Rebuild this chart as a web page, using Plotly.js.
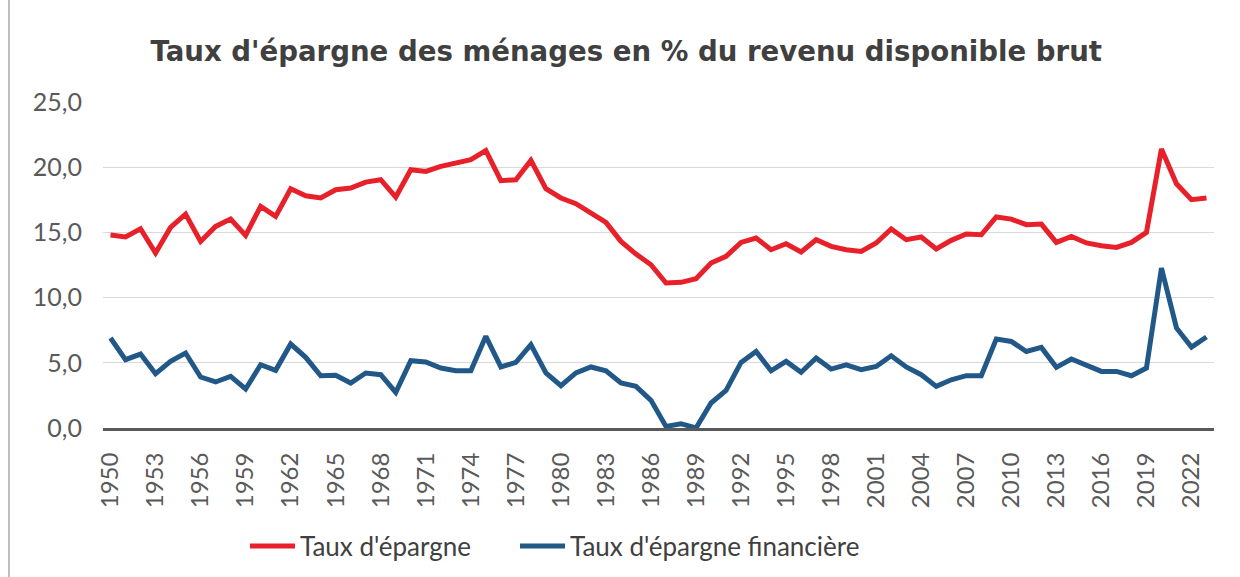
<!DOCTYPE html>
<html><head><meta charset="utf-8">
<script src="https://cdn.plot.ly/plotly-3.0.1.min.js"></script>
<style>html,body{margin:0;padding:0;background:#fff}#chart{width:1240px;height:577px}</style>
</head><body><div id="chart"></div>
<script>
const years = [];
for (let y = 1950; y <= 2023; y++) years.push(String(y));
const tauxEpargne = [14.8,14.65,15.28,13.42,15.38,16.4,14.31,15.46,16.02,14.77,
  17.0,16.23,18.35,17.81,17.64,18.27,18.4,18.86,19.04,17.71,
  19.81,19.68,20.06,20.32,20.58,21.27,18.97,19.04,20.52,18.35,
  17.64,17.2,16.49,15.77,14.31,13.34,12.52,11.12,11.17,11.45,
  12.65,13.16,14.23,14.57,13.67,14.13,13.5,14.44,13.93,13.67,
  13.54,14.19,15.26,14.44,14.65,13.73,14.39,14.88,14.82,16.18,
  16.02,15.59,15.64,14.23,14.69,14.19,13.98,13.85,14.23,15.0,
  21.4,18.73,17.51,17.64];
const tauxEpargneFin = [6.9,5.24,5.67,4.16,5.11,5.75,3.91,3.53,3.96,2.99,
  4.85,4.42,6.44,5.42,4.01,4.04,3.45,4.22,4.09,2.73,
  5.16,5.06,4.6,4.39,4.39,7.03,4.68,5.03,6.39,4.22,
  3.24,4.22,4.68,4.39,3.45,3.19,2.12,0.12,0.33,0.0,
  1.92,2.88,5.03,5.87,4.39,5.11,4.27,5.37,4.52,4.85,
  4.47,4.72,5.54,4.68,4.09,3.19,3.7,4.01,4.01,6.82,
  6.64,5.87,6.18,4.65,5.29,4.85,4.34,4.34,4.01,4.6,
  12.27,7.67,6.21,6.98];
const tickYears = years.filter((y, i) => i % 3 === 0);
const FONT = 'Lato, "Noto Sans", sans-serif';
const TITLE_FONT = '"DejaVu Sans", sans-serif';
const traces = [
  {x: years, y: tauxEpargne, type: 'scatter', mode: 'lines', name: "Taux d'épargne",
   line: {color: '#E8202A', width: 5}, legend: 'legend'},
  {x: years, y: tauxEpargneFin, type: 'scatter', mode: 'lines', name: "Taux d'épargne financière",
   line: {color: '#215888', width: 5}, legend: 'legend2'}
];
const PW = 1111, PH = 326;
const legendBase = {orientation: 'h', xref: 'container', yref: 'container', xanchor: 'left',
  y: 1 - 546/577, yanchor: 'middle', font: {size: 26, color: '#404040'}, itemwidth: 45};
const layout = {
  width: 1240, height: 577,
  paper_bgcolor: '#fff', plot_bgcolor: '#fff',
  separators: ', ',
  font: {family: FONT, color: '#404040'},
  margin: {l: 103, r: 26, t: 102, b: 149, autoexpand: false},
  title: {text: "<b>Taux d'épargne des ménages en % du revenu disponible brut</b>",
    x: 0.505, xanchor: 'center', y: 0.9116, yanchor: 'middle',
    font: {family: TITLE_FONT, size: 27.6, color: '#404040'}},
  xaxis: {type: 'category', range: [-0.5, 73.5], tickmode: 'array', tickvals: tickYears, ticktext: tickYears,
    tickangle: -90, tickfont: {size: 24, color: '#595959'}, showgrid: false, automargin: false,
    showline: true, linecolor: '#595959', linewidth: 3, ticks: '', zeroline: false, fixedrange: true,
    ticklabelstandoff: 12},
  yaxis: {range: [0, 25], tickvals: [0, 5, 10, 15, 20, 25], tickformat: '.1f', automargin: false,
    tickfont: {size: 25, color: '#595959'}, showgrid: true, gridcolor: '#D9D9D9', gridwidth: 1.3,
    zeroline: false, showline: false, ticks: '', ticklen: 0, fixedrange: true, ticklabelstandoff: 20},
  showlegend: true,
  legend: Object.assign({}, legendBase, {x: 245/1240}),
  legend2: Object.assign({}, legendBase, {x: 515/1240}),
  shapes: [{type: 'line', xref: 'paper', yref: 'paper', x0: (9-103)/PW, x1: (9-103)/PW,
    y0: -149/PH, y1: 1 + 102/PH, line: {color: '#BFBFBF', width: 2}}]
};
Plotly.newPlot('chart', traces, layout, {displayModeBar: false, staticPlot: true});
</script></body></html>
